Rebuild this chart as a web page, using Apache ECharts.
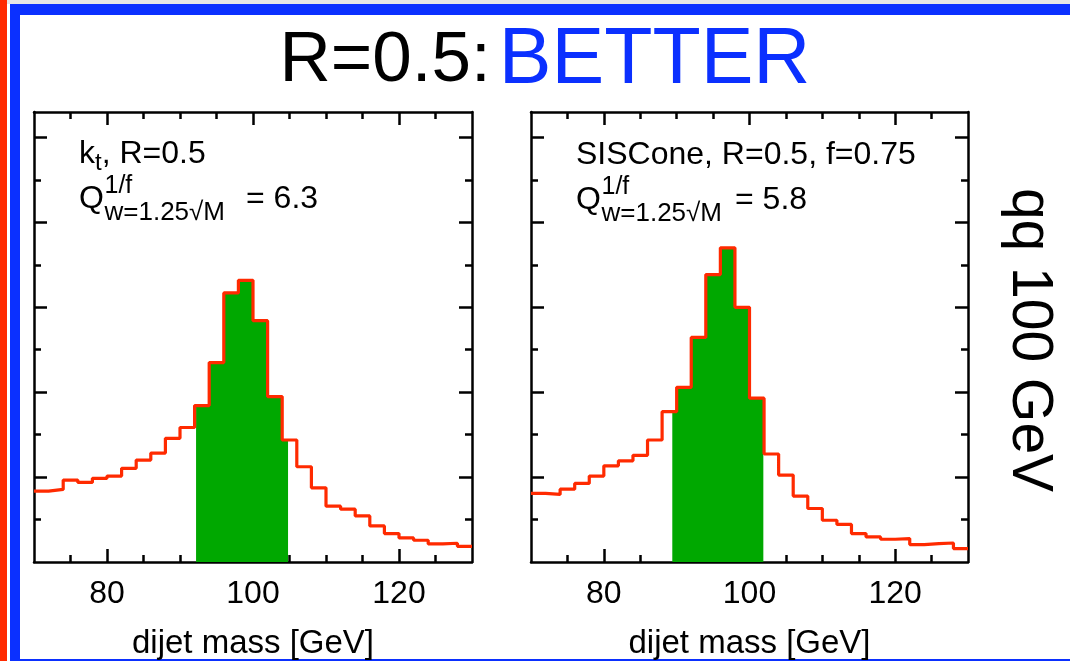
<!DOCTYPE html>
<html>
<head>
<meta charset="utf-8">
<script src="https://cdn.jsdelivr.net/npm/echarts@6/dist/echarts.min.js"></script>
<style>
html,body{margin:0;padding:0;background:#fff;}
#chart{width:1070px;height:661px;}
</style>
</head>
<body>
<div id="chart"></div>
<script>
// ---------- data ----------
const binEdges = [70,72,74,76,78,80,82,84,86,88,90,92,94,96,98,100,102,104,106,108,110,112,114,116,118,120,122,124,126,128];
const xMin = 70, xMax = 130;
const ktValues  = [0.835,0.855,0.965,0.937,0.985,1.012,1.103,1.201,1.283,1.457,1.584,1.842,2.349,3.169,3.318,2.842,1.948,1.437,1.122,0.874,0.658,0.622,0.543,0.425,0.335,0.283,0.256,0.213,0.221,0.185];
const sisValues = [0.808,0.796,0.858,0.926,1.012,1.133,1.192,1.256,1.437,1.771,2.057,2.645,3.385,3.700,2.999,1.929,1.272,1.024,0.776,0.630,0.492,0.442,0.335,0.295,0.268,0.276,0.205,0.217,0.224,0.158];
const ktWindow  = [92.2, 104.8];
const sisWindow = [89.4, 101.9];
const xMajorTicks = [80,100,120];
const xMinorTicks = [75,85,90,95,105,110,115,125];
const yMax = 5.3;
const yMajorTicks = [1,2,3,4,5];
const yMinorTicks = [0.5,1.5,2.5,3.5,4.5];
const titleBlack = 'R=0.5:';
const titleBlue = 'BETTER';
const sideLabel = 'qq 100 GeV';
const xName = 'dijet mass [GeV]';
const ktLabel1 = ['k','t',', R=0.5'];
const sisLabel1 = 'SISCone, R=0.5, f=0.75';
const qParts = ['Q','1/f','w=1.25\u221AM'];
const ktQ = '= 6.3';
const sisQ = '= 5.8';

// ---------- helpers ----------
const FONT = "'Liberation Sans', Arial, Helvetica, sans-serif";
const RED = '#ff2a00', GREEN = '#00a800', BLUE = '#0b30ff';

function stepData(values){
  const pts = binEdges.map((e,i)=>[e, values[i]]);
  pts.push([xMax, values[values.length-1]]);
  return pts;
}
function windowData(values, win){
  const a = win[0], b = win[1];
  const pts = [];
  for (let i=0;i<binEdges.length;i++){
    const lo = binEdges[i];
    const hi = i+1<binEdges.length ? binEdges[i+1] : xMax;
    if (hi <= a || lo >= b) continue;
    pts.push([Math.max(lo,a), values[i]]);
  }
  pts.push([b, pts[pts.length-1][1]]);
  return pts;
}

const grids = [
  {left:34, top:112, width:438, height:450, outerBoundsMode:'none', containLabel:false},
  {left:531, top:112, width:437, height:450, outerBoundsMode:'none', containLabel:false}
];

const lineStyle = {color:'#000', width:2.5};
const xAxes = [], yAxes = [];
grids.forEach((g, gi)=>{
  const baseX = {type:'value', gridIndex:gi, min:xMin, max:xMax, splitLine:{show:false}};
  const baseY = {type:'value', gridIndex:gi, min:0, max:yMax, splitLine:{show:false}};
  xAxes.push(Object.assign({}, baseX, {
    position:'bottom',
    axisLine:{show:true, onZero:false, lineStyle},
    axisTick:{show:true, inside:true, length:13, customValues:xMajorTicks, lineStyle},
    axisLabel:{show:true, customValues:xMajorTicks, fontSize:32, color:'#000', margin:16, fontFamily:FONT},
    name:xName, nameLocation:'middle', nameGap:65,
    nameTextStyle:{fontSize:33, color:'#000', fontFamily:FONT}
  }));
  xAxes.push(Object.assign({}, baseX, {
    position:'bottom',
    axisLine:{show:false, onZero:false},
    axisTick:{show:true, inside:true, length:7, customValues:xMinorTicks, lineStyle},
    axisLabel:{show:false}
  }));
  xAxes.push(Object.assign({}, baseX, {
    position:'top',
    axisLine:{show:true, onZero:false, lineStyle},
    axisTick:{show:true, inside:true, length:13, customValues:xMajorTicks, lineStyle},
    axisLabel:{show:false}
  }));
  xAxes.push(Object.assign({}, baseX, {
    position:'top',
    axisLine:{show:false, onZero:false},
    axisTick:{show:true, inside:true, length:7, customValues:xMinorTicks, lineStyle},
    axisLabel:{show:false}
  }));
  yAxes.push(Object.assign({}, baseY, {
    position:'left',
    axisLine:{show:true, onZero:false, lineStyle},
    axisTick:{show:true, inside:true, length:13, customValues:yMajorTicks, lineStyle},
    axisLabel:{show:false}
  }));
  yAxes.push(Object.assign({}, baseY, {
    position:'left',
    axisLine:{show:false, onZero:false},
    axisTick:{show:true, inside:true, length:7, customValues:yMinorTicks, lineStyle},
    axisLabel:{show:false}
  }));
  yAxes.push(Object.assign({}, baseY, {
    position:'right',
    axisLine:{show:true, onZero:false, lineStyle},
    axisTick:{show:true, inside:true, length:13, customValues:yMajorTicks, lineStyle},
    axisLabel:{show:false}
  }));
  yAxes.push(Object.assign({}, baseY, {
    position:'right',
    axisLine:{show:false, onZero:false},
    axisTick:{show:true, inside:true, length:7, customValues:yMinorTicks, lineStyle},
    axisLabel:{show:false}
  }));
});

function panelSeries(values, win, gi){
  return [
    {type:'line', xAxisIndex:gi*4, yAxisIndex:gi*4, step:'end', data:windowData(values, win),
     symbol:'none', lineStyle:{width:0, opacity:0}, areaStyle:{color:GREEN, opacity:1}, z:2, silent:true},
    {type:'line', xAxisIndex:gi*4, yAxisIndex:gi*4, step:'end', data:stepData(values),
     symbol:'none', lineStyle:{color:RED, width:3.2}, z:3, silent:true}
  ];
}

function mid(baseline, fs){ return baseline - 0.3465*fs; }
function txt(x, baseline, text, fs){
  return {type:'text', x:x, y:mid(baseline, fs), silent:true,
    style:{text:text, fontSize:fs, fontFamily:FONT, fill:'#000', textAlign:'left', textVerticalAlign:'middle'}};
}

const graphics = [
  {type:'rect', shape:{x:7, y:0, width:1063, height:4}, style:{fill:'#e6e6e6'}, silent:true},
  {type:'rect', shape:{x:0, y:0, width:7, height:661}, style:{fill:RED}, silent:true},
  {type:'rect', shape:{x:10, y:4, width:10, height:657}, style:{fill:BLUE}, silent:true},
  {type:'rect', shape:{x:10, y:4, width:1060, height:11}, style:{fill:BLUE}, silent:true},
  {type:'rect', shape:{x:20, y:659, width:1050, height:2}, style:{fill:BLUE}, silent:true},
  // title
  {type:'text', x:545, y:mid(88,77), silent:true,
   style:{text:'{a|'+titleBlack+'}{b|'+titleBlue+'}', textAlign:'center', textVerticalAlign:'middle',
     fontSize:77, fontFamily:FONT,
     rich:{a:{fontSize:71, fontFamily:FONT, fill:'#000'},
           b:{fontSize:79, fontFamily:FONT, fill:BLUE, padding:[0,0,0,8]}}}},
  // side label
  {type:'text', x:1029, y:340, rotation:-Math.PI/2, silent:true,
   style:{text:sideLabel, fontSize:57, fontFamily:FONT, fill:'#000', textAlign:'center', textVerticalAlign:'middle'}},
  // left panel texts
  txt(79, 165, ktLabel1[0], 32),
  txt(95, 172, ktLabel1[1], 24),
  txt(101.7, 165, ktLabel1[2], 32),
  txt(79, 210, qParts[0], 32),
  txt(104.5, 195, qParts[1], 25),
  txt(104.5, 222, qParts[2], 26),
  txt(246, 210, ktQ, 32),
  // right panel texts
  txt(576, 166, sisLabel1, 32),
  txt(576, 211, qParts[0], 32),
  txt(601.5, 196, qParts[1], 25),
  txt(601.5, 223, qParts[2], 26),
  txt(735, 211, sisQ, 32)
];

const chart = echarts.init(document.getElementById('chart'), null, {renderer:'canvas'});
chart.setOption({
  animation:false,
  backgroundColor:'#ffffff',
  grid:grids,
  xAxis:xAxes,
  yAxis:yAxes,
  series:[].concat(panelSeries(ktValues, ktWindow, 0), panelSeries(sisValues, sisWindow, 1)),
  graphic:graphics
});
</script>
</body>
</html>
